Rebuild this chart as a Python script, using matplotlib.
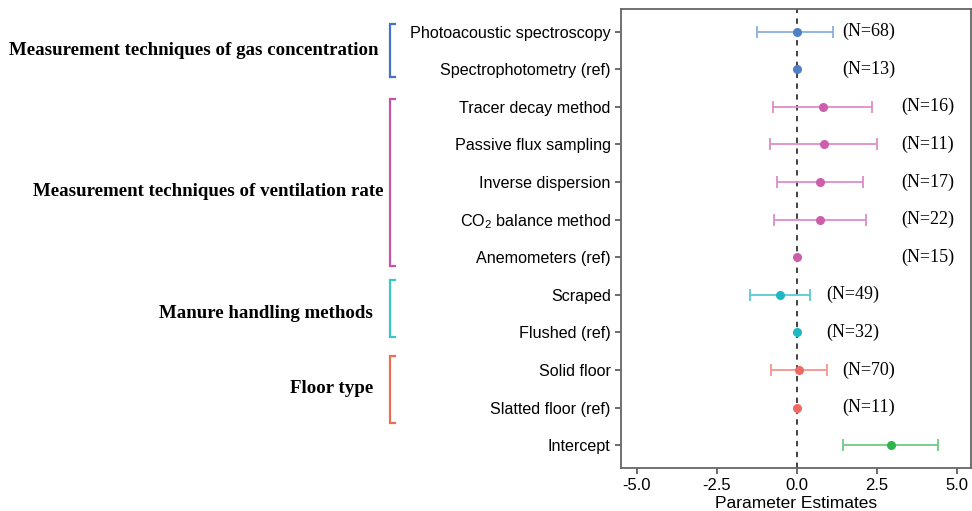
import numpy as np
import matplotlib
matplotlib.use('Agg')
import matplotlib.pyplot as plt
from matplotlib.transforms import blended_transform_factory

plt.rcParams['font.family'] = ['Liberation Sans', 'DejaVu Sans']
plt.rcParams['mathtext.fontset'] = 'custom'
plt.rcParams['mathtext.rm'] = 'Liberation Sans'
plt.rcParams['mathtext.it'] = 'Liberation Sans:italic'

# Data (top to bottom)
labels = ['Photoacoustic spectroscopy', 'Spectrophotometry (ref)',
          'Tracer decay method', 'Passive flux sampling',
          'Inverse dispersion', 'CO$_2$ balance method',
          'Anemometers (ref)', 'Scraped', 'Flushed (ref)',
          'Solid floor', 'Slatted floor (ref)', 'Intercept']
estimate = [0.0, 0.0, 0.81, 0.86, 0.72, 0.72, 0.0, -0.53, 0.0, 0.06, 0.0, 2.95]
ci_low = [-1.24, 0.0, -0.75, -0.85, -0.62, -0.72, 0.0, -1.46, 0.0, -0.80, 0.0, 1.46]
ci_high = [1.14, 0.0, 2.34, 2.52, 2.08, 2.16, 0.0, 0.42, 0.0, 0.95, 0.0, 4.41]
n_obs = [68, 13, 16, 11, 17, 22, 15, 49, 32, 70, 11, None]
group = ['gas', 'gas', 'vent', 'vent', 'vent', 'vent', 'vent',
         'manure', 'manure', 'floor', 'floor', 'intercept']

group_names = {'gas': 'Measurement techniques of gas concentration',
               'vent': 'Measurement techniques of ventilation rate',
               'manure': 'Manure handling methods',
               'floor': 'Floor type'}

# styles
point_col = {'gas': '#4f7fc6', 'vent': '#cc5fac', 'manure': '#1db8c2',
             'floor': '#ee6a62', 'intercept': '#2db54c'}
line_col = {'gas': '#8aaee0', 'vent': '#e08ccb', 'manure': '#5cc9cf',
            'floor': '#f5958f', 'intercept': '#72cc82'}
bracket_col = {'gas': '#4472c4', 'vent': '#c455aa', 'manure': '#3cc6c8',
               'floor': '#e8704f'}
label_x = {'gas': 2.26, 'vent': 4.09, 'manure': 1.75, 'floor': 2.26}
# bracket extents (data units, top/bottom) around each group's rows
bracket_pad = {'gas': (0.21, 0.21), 'vent': (0.21, 0.24),
               'manure': (0.4, 0.13), 'floor': (0.37, 0.4)}

n = len(labels)
y = np.arange(n, 0, -1)

fig = plt.figure(figsize=(9.72, 5.11), dpi=100)
ax = fig.add_axes([0.639, 0.0845, 0.360, 0.898])

ax.axvline(0, color='#333333', linestyle=(0, (3, 3)), linewidth=1.3, zorder=1)

for i in range(n):
    g = group[i]
    if ci_high[i] != ci_low[i]:
        ax.errorbar(estimate[i], y[i],
                    xerr=[[estimate[i] - ci_low[i]], [ci_high[i] - estimate[i]]],
                    fmt='none', ecolor=line_col[g], elinewidth=1.3,
                    capsize=4, capthick=1.3, zorder=2)
    ax.plot(estimate[i], y[i], 'o', color=point_col[g], markersize=5.5,
            zorder=3)
    if n_obs[i] is not None:
        ax.text(label_x[g], y[i], '(N=%d)' % n_obs[i], ha='center',
                va='center', fontsize=13, family='Liberation Serif')

ax.set_xlim(-5.49, 5.45)
ax.set_ylim(0.4, 12.6)
ax.set_xticks([-5.0, -2.5, 0.0, 2.5, 5.0])
ax.set_xticklabels(['-5.0', '-2.5', '0.0', '2.5', '5.0'])
ax.set_yticks(y)
ax.set_yticklabels(labels)
ax.tick_params(axis='x', labelsize=12, length=4, width=1.1,
               color='#444444', labelcolor='black')
ax.tick_params(axis='y', labelsize=11.6, length=4, width=1.1,
               color='#444444', labelcolor='black')
ax.set_xlabel('Parameter Estimates', fontsize=12.5, labelpad=2)
for s in ax.spines.values():
    s.set_color('#666666')
    s.set_linewidth(1.3)

# group brackets and names
tr = blended_transform_factory(fig.transFigure, ax.transData)
bx = 390 / 972
tick = 5 / 972
for g in ['gas', 'vent', 'manure', 'floor']:
    rows = [y[i] for i in range(n) if group[i] == g]
    top = max(rows) + bracket_pad[g][0]
    bot = min(rows) - bracket_pad[g][1]
    ax.plot([bx + tick, bx, bx, bx + tick], [top, top, bot, bot],
            color=bracket_col[g], linewidth=1.6, transform=tr,
            clip_on=False, solid_joinstyle='miter')
    mid = (max(rows) + min(rows)) / 2
    xr = 383 / 972 if g == 'vent' else (378 / 972 if g == 'gas' else 373 / 972)
    if g == 'vent':
        mid -= 0.25
    ax.text(xr, mid, group_names[g], ha='right', va='center',
            fontsize=13.6, fontweight='bold', family='Liberation Serif',
            transform=tr)

fig.savefig('out.png', dpi=100)
